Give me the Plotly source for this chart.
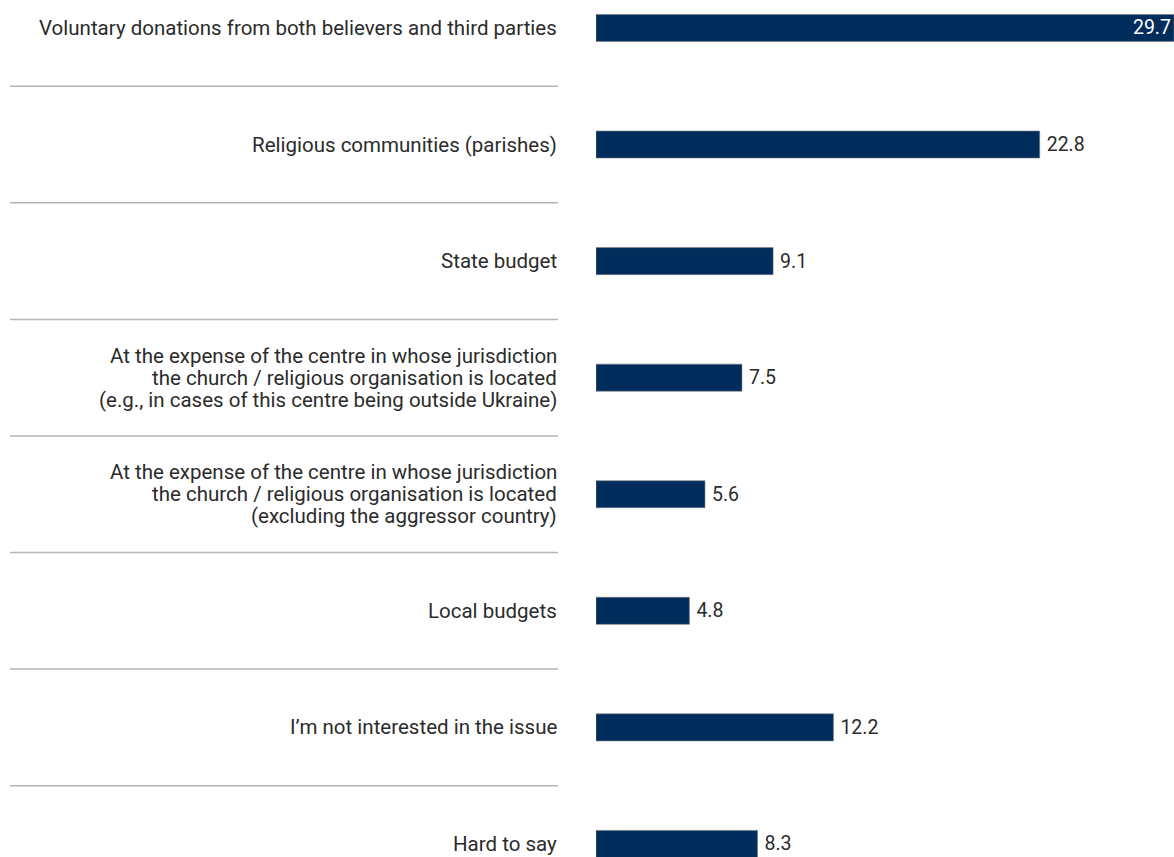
import plotly.graph_objects as go

categories = [
    "Voluntary donations from both believers and third parties",
    "Religious communities (parishes)",
    "State budget",
    "At the expense of the centre in whose jurisdiction<br>the church / religious organisation is located<br>(e.g., in cases of this centre being outside Ukraine)",
    "At the expense of the centre in whose jurisdiction<br>the church / religious organisation is located<br>(excluding the aggressor country)",
    "Local budgets",
    "I\u2019m not interested in the issue",
    "Hard to say",
]
values = [29.7, 22.8, 9.1, 7.5, 5.6, 4.8, 12.2, 8.3]

FONT = "Roboto"
BAR = "#002d5c"
TXT = "#2b2b2b"

ypos = list(range(len(categories)))
fig = go.Figure()
fig.add_trace(go.Bar(
    x=values, y=ypos, orientation="h", width=0.232,
    marker=dict(color=BAR, line=dict(color="#7a7a7a", width=0.6)),
    text=[f"{v:.1f}" if k == 0 else f"\u2009{v:.1f}" for k, v in enumerate(values)],
    textposition=["inside"] + ["outside"] * (len(values) - 1),
    insidetextanchor="end",
    constraintext="none",
    textfont=dict(family=FONT, size=19.5, color=["white"] + [TXT] * (len(values) - 1)),
    cliponaxis=False,
    hoverinfo="skip",
))

L, W = 596, 578
def px_to_paper(px):
    return (px - L) / W

LINE_H = 22
annotations = []
for i, c in enumerate(categories):
    lines = c.split("<br>")
    n = len(lines)
    for j, ln in enumerate(lines):
        annotations.append(dict(
            x=px_to_paper(558), xref="paper", y=i, yref="y",
            text=ln, showarrow=False, xanchor="right", yanchor="middle",
            borderpad=0,
            yshift=-(j - (n - 1) / 2) * LINE_H,
            font=dict(family=FONT, size=20.5, color=TXT),
        ))

shapes = []
for i in range(len(categories) - 1):
    shapes.append(dict(
        type="line", xref="paper", yref="y",
        x0=px_to_paper(10), x1=px_to_paper(558), y0=i + 0.5, y1=i + 0.5,
        line=dict(color="#b5b5b5", width=1.5),
    ))

fig.update_layout(
    width=1174, height=857,
    margin=dict(l=L, r=0, t=0, b=0),
    paper_bgcolor="white", plot_bgcolor="white",
    showlegend=False,
    xaxis=dict(range=[0, 29.7], visible=False, fixedrange=True),
    yaxis=dict(range=[7.112, -0.240], visible=False, fixedrange=True),
    annotations=annotations, shapes=shapes,
    uniformtext=dict(mode=False),
)

fig.write_html(
    "out.html",
    config={"displayModeBar": False},
    post_script="document.body.style.margin='0';document.body.style.overflow='hidden';",
)
